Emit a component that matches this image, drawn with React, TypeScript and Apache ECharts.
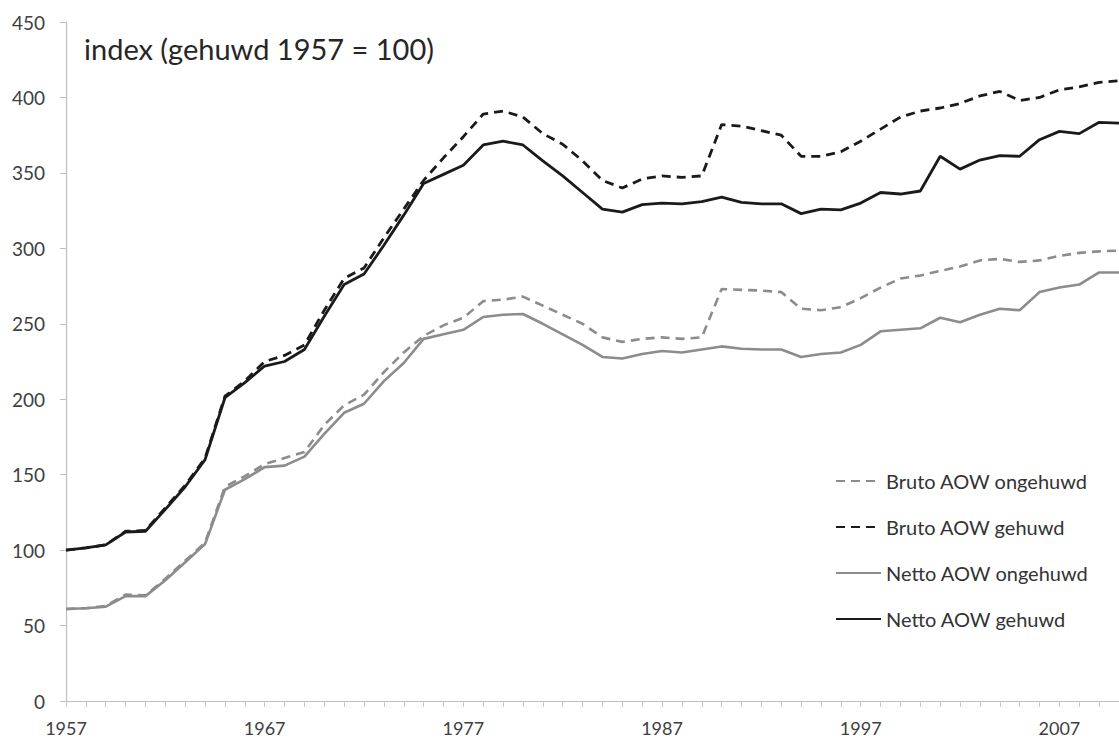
import React, { useEffect, useRef } from "react";
import * as echarts from "echarts";

const years: string[] = [];
for (let y = 1957; y <= 2010; y++) years.push(String(y));

const brutoOngehuwd = [
  61, 61.5, 63, 70.5, 70, 81, 93, 105, 142, 149,
  157, 161, 165, 183, 196, 203, 218, 231, 242, 249,
  254, 265, 266, 268, 262, 256, 250, 241, 238, 240,
  241, 240, 241, 273, 272.5, 272, 271, 260, 259, 261,
  267, 274, 280, 282, 285, 288, 292, 293, 291, 292,
  295, 297, 298, 298.5,
];

const brutoGehuwd = [
  100, 101.5, 103.5, 112.5, 113, 128, 143, 161, 202, 212,
  225, 229, 236, 259, 280, 287, 307, 326, 345, 360,
  374, 389, 391, 387, 376, 369, 358, 345, 340, 346,
  348, 347, 348, 382, 381, 378, 375, 361, 361, 364,
  371, 379, 387, 391, 393, 396, 401, 404, 398, 400,
  405, 407, 410, 411,
];

const nettoOngehuwd = [
  61, 61.5, 62.5, 69.5, 69.5, 80, 92, 104, 140, 147,
  155, 156, 162, 177, 191, 197, 212, 224, 240, 243,
  246, 254.5, 256, 256.5, 250, 243, 236, 228, 227, 230,
  232, 231, 233, 235, 233.5, 233, 233, 228, 230, 231,
  236, 245, 246, 247, 254, 251, 256, 260, 259, 271,
  274, 276, 284, 284,
];

const nettoGehuwd = [
  100, 101.5, 103.5, 112, 112.5, 127, 142, 160, 201, 211,
  222, 225, 233, 255, 276, 283, 302, 322, 343, 349,
  355, 368.5, 371, 368.5, 358, 348, 337, 326, 324, 329,
  330, 329.5, 331, 334, 330.5, 329.5, 329.5, 323, 326, 325.5,
  330, 337, 336, 338, 361, 352.5, 358.5, 361.5, 361, 372,
  377.5, 376, 383.5, 383,
];

const seriesNames = [
  "Bruto AOW ongehuwd",
  "Bruto AOW gehuwd",
  "Netto AOW ongehuwd",
  "Netto AOW gehuwd",
];

const titleText = "index (gehuwd 1957 = 100)";

const FONT = "Lato, 'Open Sans', sans-serif";
const BLACK = "#1a1a1a";
const GRAY = "#8c8c8c";

export default function App() {
  const ref = useRef<HTMLDivElement>(null);

  useEffect(() => {
    if (!ref.current) return;
    const chart = echarts.init(ref.current, null, { renderer: "svg" });
    const mk = (name: string, data: number[], color: string, dashed: boolean) => ({
      name,
      type: "line",
      data,
      symbol: "none",
      showSymbol: false,
      lineStyle: {
        color,
        width: color === BLACK ? 2.8 : 2.6,
        type: dashed ? [9, 6] : "solid",
      },
      itemStyle: { color, opacity: 0 },
      z: color === BLACK ? 3 : 2,
    });
    chart.setOption({
      animation: false,
      backgroundColor: "#ffffff",
      textStyle: { fontFamily: FONT },
      title: {
        text: titleText,
        left: 84,
        top: 34,
        padding: 0,
        textStyle: {
          fontFamily: FONT,
          fontSize: 29,
          fontWeight: "normal",
          color: "#262626",
        },
      },
      legend: {
        orient: "vertical",
        left: 830,
        top: 466,
        itemWidth: 45,
        itemHeight: 20,
        itemGap: 26,
        itemStyle: { opacity: 0 },
        textStyle: {
          fontFamily: FONT,
          fontSize: 20,
          color: "#333333",
          lineHeight: 20,
        },
        data: seriesNames,
      },
      grid: { left: 66, right: -2, top: 22, bottom: 39, containLabel: false },
      xAxis: {
        type: "category",
        data: years,
        boundaryGap: false,
        axisLine: { lineStyle: { color: "#bfbfbf", width: 1.2 } },
        axisTick: {
          show: true,
          interval: 0,
          length: 6,
          lineStyle: { color: "#c8c8c8" },
        },
        axisLabel: {
          interval: 9,
          margin: 18,
          fontFamily: FONT,
          fontSize: 18,
          lineHeight: 18,
          color: "#404040",
        },
        splitLine: { show: false },
      },
      yAxis: {
        type: "value",
        min: 0,
        max: 450,
        interval: 50,
        axisLine: { show: true, lineStyle: { color: "#bfbfbf", width: 1.2 } },
        axisTick: { show: true, length: 6, lineStyle: { color: "#bfbfbf" } },
        axisLabel: {
          margin: 21,
          fontFamily: FONT,
          fontSize: 19,
          color: "#404040",
        },
        splitLine: { show: false },
      },
      series: [
        mk(seriesNames[0], brutoOngehuwd, GRAY, true),
        mk(seriesNames[1], brutoGehuwd, BLACK, true),
        mk(seriesNames[2], nettoOngehuwd, GRAY, false),
        mk(seriesNames[3], nettoGehuwd, BLACK, false),
      ],
    });
    return () => chart.dispose();
  }, []);

  return (
    <div
      ref={ref}
      style={{ position: "absolute", left: 0, top: 0, width: 1119, height: 740 }}
    />
  );
}
